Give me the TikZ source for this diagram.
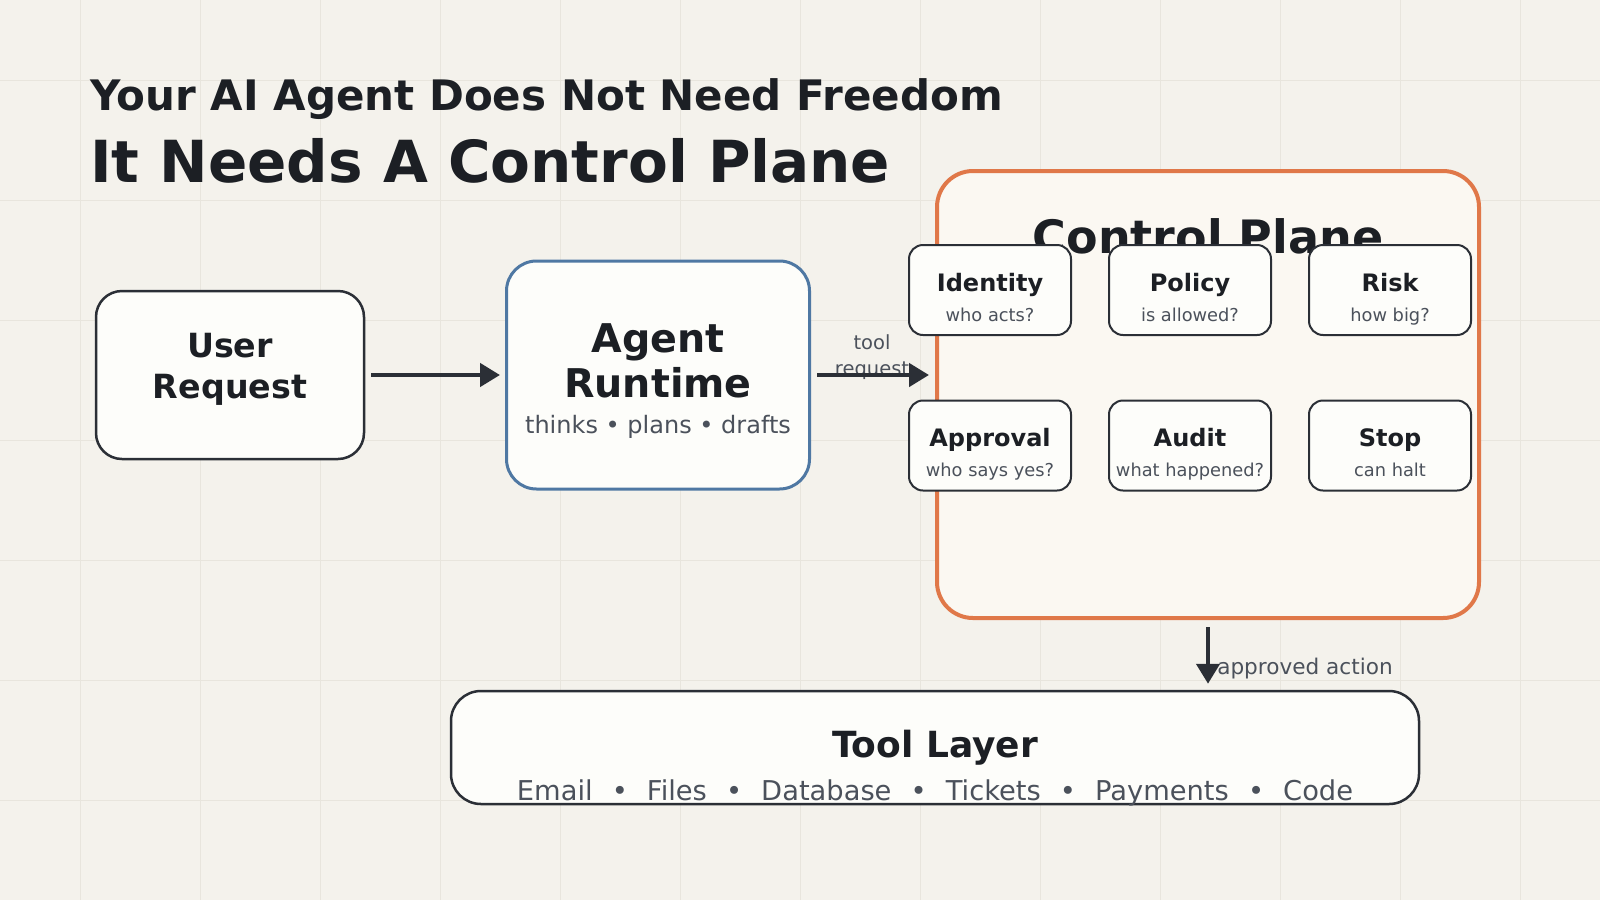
\documentclass[tikz,border=0pt]{standalone}
\usepackage{fontspec}
\setmainfont{DejaVu Sans}
\usetikzlibrary{positioning,arrows.meta}

\definecolor{paper}{HTML}{F4F2EC}
\definecolor{gridline}{HTML}{E8E5DD}
\definecolor{ink}{HTML}{1C1F24}
\definecolor{edge}{HTML}{2B2F36}
\definecolor{muted}{HTML}{4B515B}
\definecolor{boxfill}{HTML}{FDFDFA}
\definecolor{runtimeblue}{HTML}{4F78A3}
\definecolor{planeorange}{HTML}{E07849}
\definecolor{planefill}{HTML}{FBF8F2}

\newcommand{\fsz}[2]{\fontsize{#1}{#2}\selectfont}

\tikzset{
  panel/.style={draw=edge, fill=boxfill, line width=2.5pt},
  check/.style={panel, line width=2pt, rounded corners=14pt, minimum width=162pt, minimum height=90pt},
  heading/.style={inner sep=0pt, text=ink, font=\bfseries},
  note/.style={inner sep=0pt, text=muted},
  flow/.style={draw=edge, line width=4.5pt, -{Triangle[length=20pt,width=23pt]}},
}

\begin{document}
\begin{tikzpicture}[x=1pt,y=-1pt]
\fill[paper] (0,0) rectangle (1600,900);
\useasboundingbox (0,0) rectangle (1600,900);
% grid
\foreach \gx in {80,200,...,1520} \draw[gridline,line width=1pt] (\gx,0) -- (\gx,900);
\foreach \gy in {80,200,...,800} \draw[gridline,line width=1pt] (0,\gy) -- (1600,\gy);

% headline
\node[heading, anchor=base west, font=\bfseries\fsz{42}{50}] (kicker) at (90,110) {Your AI Agent Does Not Need Freedom};
\node[heading, anchor=base west, font=\bfseries\fsz{58}{70}] (headline) at (90,182) {It Needs A Control Plane};

% user request
\node[panel, rounded corners=26pt, minimum width=268pt, minimum height=168pt] (user) at (230,375) {};
\node[heading, align=center, font=\bfseries\fsz{33.3}{41}] (usertext) at (230,369) {User\\Request};

% agent runtime
\node[panel, draw=runtimeblue, line width=3pt, rounded corners=30pt, minimum width=303pt, minimum height=228pt] (agent) at (658,375) {};
\node[heading, align=center, font=\bfseries\fsz{39.6}{45}] (agenttext) at (658,361) {Agent\\Runtime};
\node[note, anchor=base, font=\fsz{24}{28}] (agentsub) at (658,433) {thinks • plans • drafts};

% control plane
\node[draw=planeorange, fill=planefill, line width=4pt, rounded corners=36pt, minimum width=542pt, minimum height=447pt] (plane) at (1208,394.5) {};
\node[heading, anchor=base, font=\bfseries\fsz{46}{54}] (planetitle) at (1208,253) {Control Plane};

\foreach \key/\head/\ask/\cx/\cy in {identity/Identity/who acts?/990/290, policy/Policy/is allowed?/1190/290, risk/Risk/how big?/1390/290, approval/Approval/who says yes?/990/445.5, audit/Audit/what happened?/1190/445.5, stop/Stop/can halt/1390/445.5} {
  \node[check] (\key) at (\cx,\cy) {};
  \node[heading, anchor=base, font=\bfseries\fsz{24}{28}] (\key-head) at ([yshift=-1pt]\key.center) {\head};
  \node[note, anchor=base, font=\fsz{17.8}{20}] (\key-ask) at ([yshift=-31pt]\key.center) {\ask};
}

% tool layer
\node[panel, rounded corners=30pt, minimum width=968pt, minimum height=113pt] (tool) at (935,747.5) {};
\node[heading, anchor=base, font=\bfseries\fsz{36}{40}] (tooltitle) at (935,757) {Tool Layer};
\node[note, anchor=base, font=\fsz{27.3}{32}] (toolitems) at (935,800) {Email\hspace{0.7em}•\hspace{0.7em}Files\hspace{0.7em}•\hspace{0.7em}Database\hspace{0.7em}•\hspace{0.7em}Tickets\hspace{0.7em}•\hspace{0.7em}Payments\hspace{0.7em}•\hspace{0.7em}Code};

% connectors
\coordinate (planegate) at (agent.east -| plane.west);
\coordinate (tooldrop) at (plane.south |- tool.north);
\node[note, align=center, font=\fsz{19.5}{26}] (toolreq) at (872,357) {tool\\request};
\draw[flow] ([xshift=6pt]user.east) -- ([xshift=-5pt]agent.west);
\draw[flow] ([xshift=6pt]agent.east) -- ([xshift=-6pt]planegate);
\draw[flow] ([yshift=-7pt]plane.south) -- node[note, pos=0.83, anchor=base west, xshift=7pt, font=\fsz{21.6}{24}] (approved) {approved action} ([yshift=6pt]tooldrop);
\end{tikzpicture}
\end{document}
